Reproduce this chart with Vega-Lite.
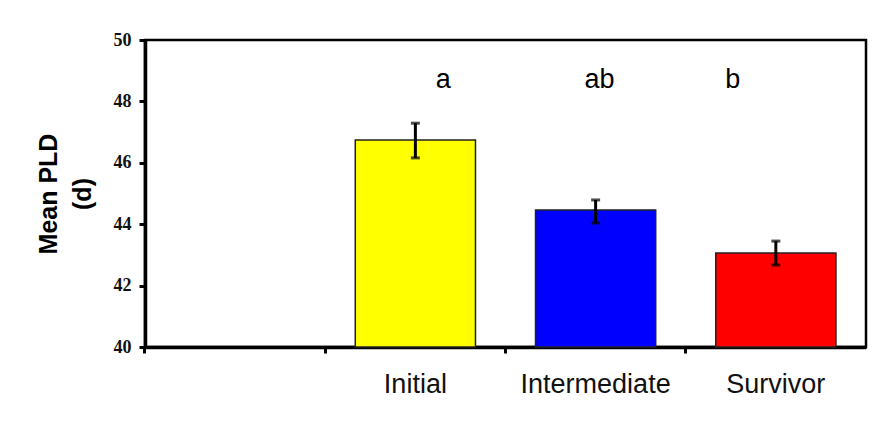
{
  "$schema": "https://vega.github.io/schema/vega-lite/v6.json",
  "width": 721,
  "height": 307,
  "autosize": {"type": "none"},
  "padding": {"left": 145, "top": 40, "right": 10, "bottom": 83},
  "background": "white",
  "config": {"view": {"stroke": "black", "strokeWidth": 2.5}},
  "datasets": {
    "bars": [
      {"group": "Initial", "mean": 46.74, "lo": 46.16, "hi": 47.29, "color": "#ffff00"},
      {"group": "Intermediate", "mean": 44.46, "lo": 44.04, "hi": 44.79, "color": "#0000ff"},
      {"group": "Survivor", "mean": 43.06, "lo": 42.67, "hi": 43.45, "color": "#ff0000"}
    ],
    "letters": [
      {"group": "Initial", "letter": "a", "pos": 48.7},
      {"group": "Intermediate", "letter": "ab", "pos": 48.7},
      {"group": "Survivor", "letter": "b", "pos": 48.7}
    ]
  },
  "encoding": {
    "x": {
      "field": "group", "type": "nominal",
      "scale": {"domain": ["", "Initial", "Intermediate", "Survivor"], "paddingInner": 0.333, "paddingOuter": 0.1667},
      "axis": {
        "title": null, "labelAngle": 0, "bandPosition": -0.25,
        "labelFont": "Liberation Sans", "labelFontSize": 27, "labelColor": "#111",
        "labelPadding": 18, "tickSize": 6, "tickWidth": 3, "tickColor": "black",
        "domainColor": "black", "domainWidth": 3.5
      }
    }
  },
  "layer": [
    {
      "data": {"name": "bars"},
      "mark": {"type": "bar", "stroke": "#222", "strokeWidth": 1.5},
      "encoding": {
        "y": {
          "field": "mean", "type": "quantitative",
          "scale": {"domain": [40, 50], "nice": false, "zero": false},
          "axis": {
            "values": [40, 42, 44, 46, 48, 50], "grid": false,
            "title": ["Mean PLD", "(d)"], "titleFont": "Liberation Sans", "titleFontSize": 25, "titleFontWeight": "bold",
            "titleColor": "black", "titleLineHeight": 34, "titlePadding": 18,
            "labelFont": "Liberation Serif", "labelFontSize": 18, "labelFontWeight": "bold", "labelColor": "#111",
            "labelPadding": 8, "tickSize": 6, "tickWidth": 3, "tickColor": "black",
            "domainColor": "black", "domainWidth": 3.5
          }
        },
        "y2": {"datum": 40},
        "color": {"field": "color", "type": "nominal", "scale": null, "legend": null}
      }
    },
    {
      "data": {"name": "bars"},
      "mark": {"type": "errorbar", "color": "black", "thickness": 3, "ticks": {"size": 9, "thickness": 3, "color": "black"}},
      "encoding": {
        "y": {"field": "lo", "type": "quantitative", "title": ["Mean PLD", "(d)"]},
        "y2": {"field": "hi"}
      }
    },
    {
      "data": {"name": "letters"},
      "transform": [{"filter": "datum.letter == 'a'"}],
      "mark": {"type": "text", "font": "Liberation Sans", "fontSize": 27, "color": "black", "dx": 28, "baseline": "middle"},
      "encoding": {"y": {"field": "pos", "type": "quantitative", "title": ["Mean PLD", "(d)"]}, "text": {"field": "letter"}}
    },
    {
      "data": {"name": "letters"},
      "transform": [{"filter": "datum.letter == 'ab'"}],
      "mark": {"type": "text", "font": "Liberation Sans", "fontSize": 27, "color": "black", "dx": 4, "baseline": "middle"},
      "encoding": {"y": {"field": "pos", "type": "quantitative", "title": ["Mean PLD", "(d)"]}, "text": {"field": "letter"}}
    },
    {
      "data": {"name": "letters"},
      "transform": [{"filter": "datum.letter == 'b'"}],
      "mark": {"type": "text", "font": "Liberation Sans", "fontSize": 27, "color": "black", "dx": -43, "baseline": "middle"},
      "encoding": {"y": {"field": "pos", "type": "quantitative", "title": ["Mean PLD", "(d)"]}, "text": {"field": "letter"}}
    }
  ]
}
